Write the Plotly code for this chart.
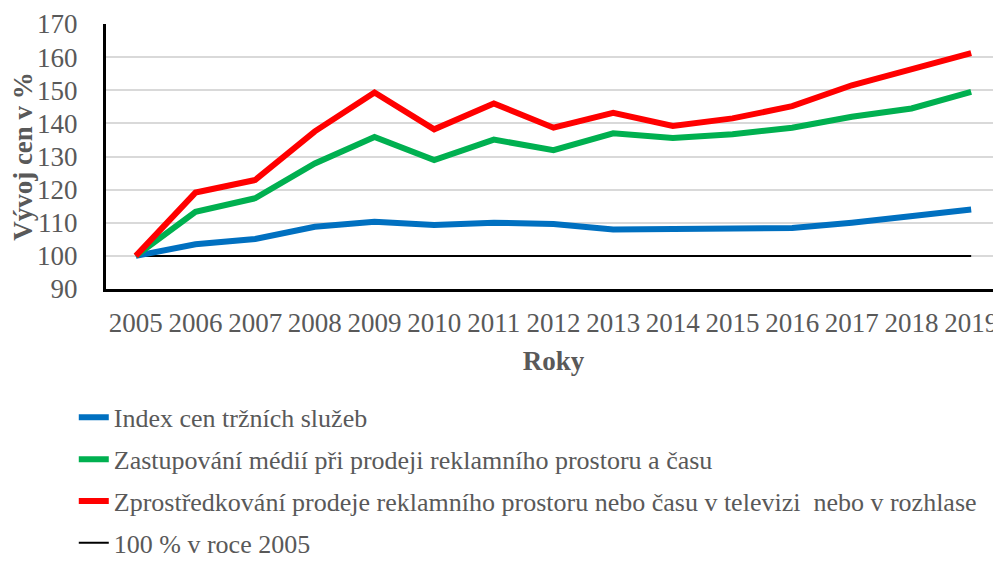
import plotly.graph_objects as go

years = [str(y) for y in range(2005, 2020)]
index_trznich = [100, 103.5, 105.1, 108.8, 110.3, 109.3, 110.0, 109.6, 108.0, 108.2, 108.2, 108.4, 110.0, 111.8, 114.0]
zastupovani = [100, 113.3, 117.4, 127.9, 135.9, 128.9, 135.1, 131.9, 137.0, 135.6, 136.7, 138.7, 142.0, 144.5, 149.5]
zprostredkovani = [100, 119.1, 122.9, 137.6, 149.3, 138.2, 146.0, 138.7, 143.2, 139.2, 141.5, 145.2, 151.5, 156.5, 161.2]
baseline = [100] * 15

names = [
    "Index cen tržních služeb",
    "Zastupování médií při prodeji reklamního prostoru a času",
    "Zprostředkování prodeje reklamního prostoru nebo času v televizi  nebo v rozhlase",
    "100 % v roce 2005",
]

FONT = "Times New Roman"
GREY = "#595959"

fig = go.Figure()
series = [(index_trznich, "#0070C0", 6), (zastupovani, "#00B050", 6), (zprostredkovani, "#FF0000", 6)]
fig.add_trace(go.Scatter(x=years, y=baseline, mode="lines", name=names[3],
                         line=dict(color="#000000", width=2), legendgroup="d", legendrank=4))
for i, (vals, col, w) in enumerate(series):
    fig.add_trace(go.Scatter(x=years, y=vals, mode="lines", name=names[i],
                             line=dict(color=col, width=w), legendgroup=str(i), legendrank=i + 1))

fig.update_layout(
    width=993, height=553,
    margin=dict(l=98, r=0, t=16, b=272, autoexpand=False),
    paper_bgcolor="white", plot_bgcolor="white",
    font=dict(family=FONT, size=27, color=GREY),
    showlegend=True,
    legend=dict(x=-0.036, y=-0.396, xanchor="left", yanchor="top", orientation="v",
                tracegroupgap=5, font=dict(family=FONT, size=26, color=GREY),
                bgcolor="rgba(0,0,0,0)"),
    xaxis=dict(type="category", range=[-0.5, 14.5], showgrid=False,
               showline=True, linecolor="#000000", linewidth=3, ticks="",
               tickfont=dict(family=FONT, size=27, color=GREY), ticklabelstandoff=8,
               title=dict(text="<b>Roky</b>", font=dict(family=FONT, size=27, color=GREY), standoff=14)),
    yaxis=dict(range=[90, 170], dtick=10, showgrid=True, gridcolor="#D9D9D9", gridwidth=2,
               showline=True, linecolor="#000000", linewidth=3, ticks="", zeroline=False,
               tickfont=dict(family=FONT, size=27, color=GREY), ticklabelstandoff=20,
               title=dict(text="<b>Vývoj cen v %</b>", font=dict(family=FONT, size=27, color=GREY), standoff=2)),
)

fig.write_html("out.html")
